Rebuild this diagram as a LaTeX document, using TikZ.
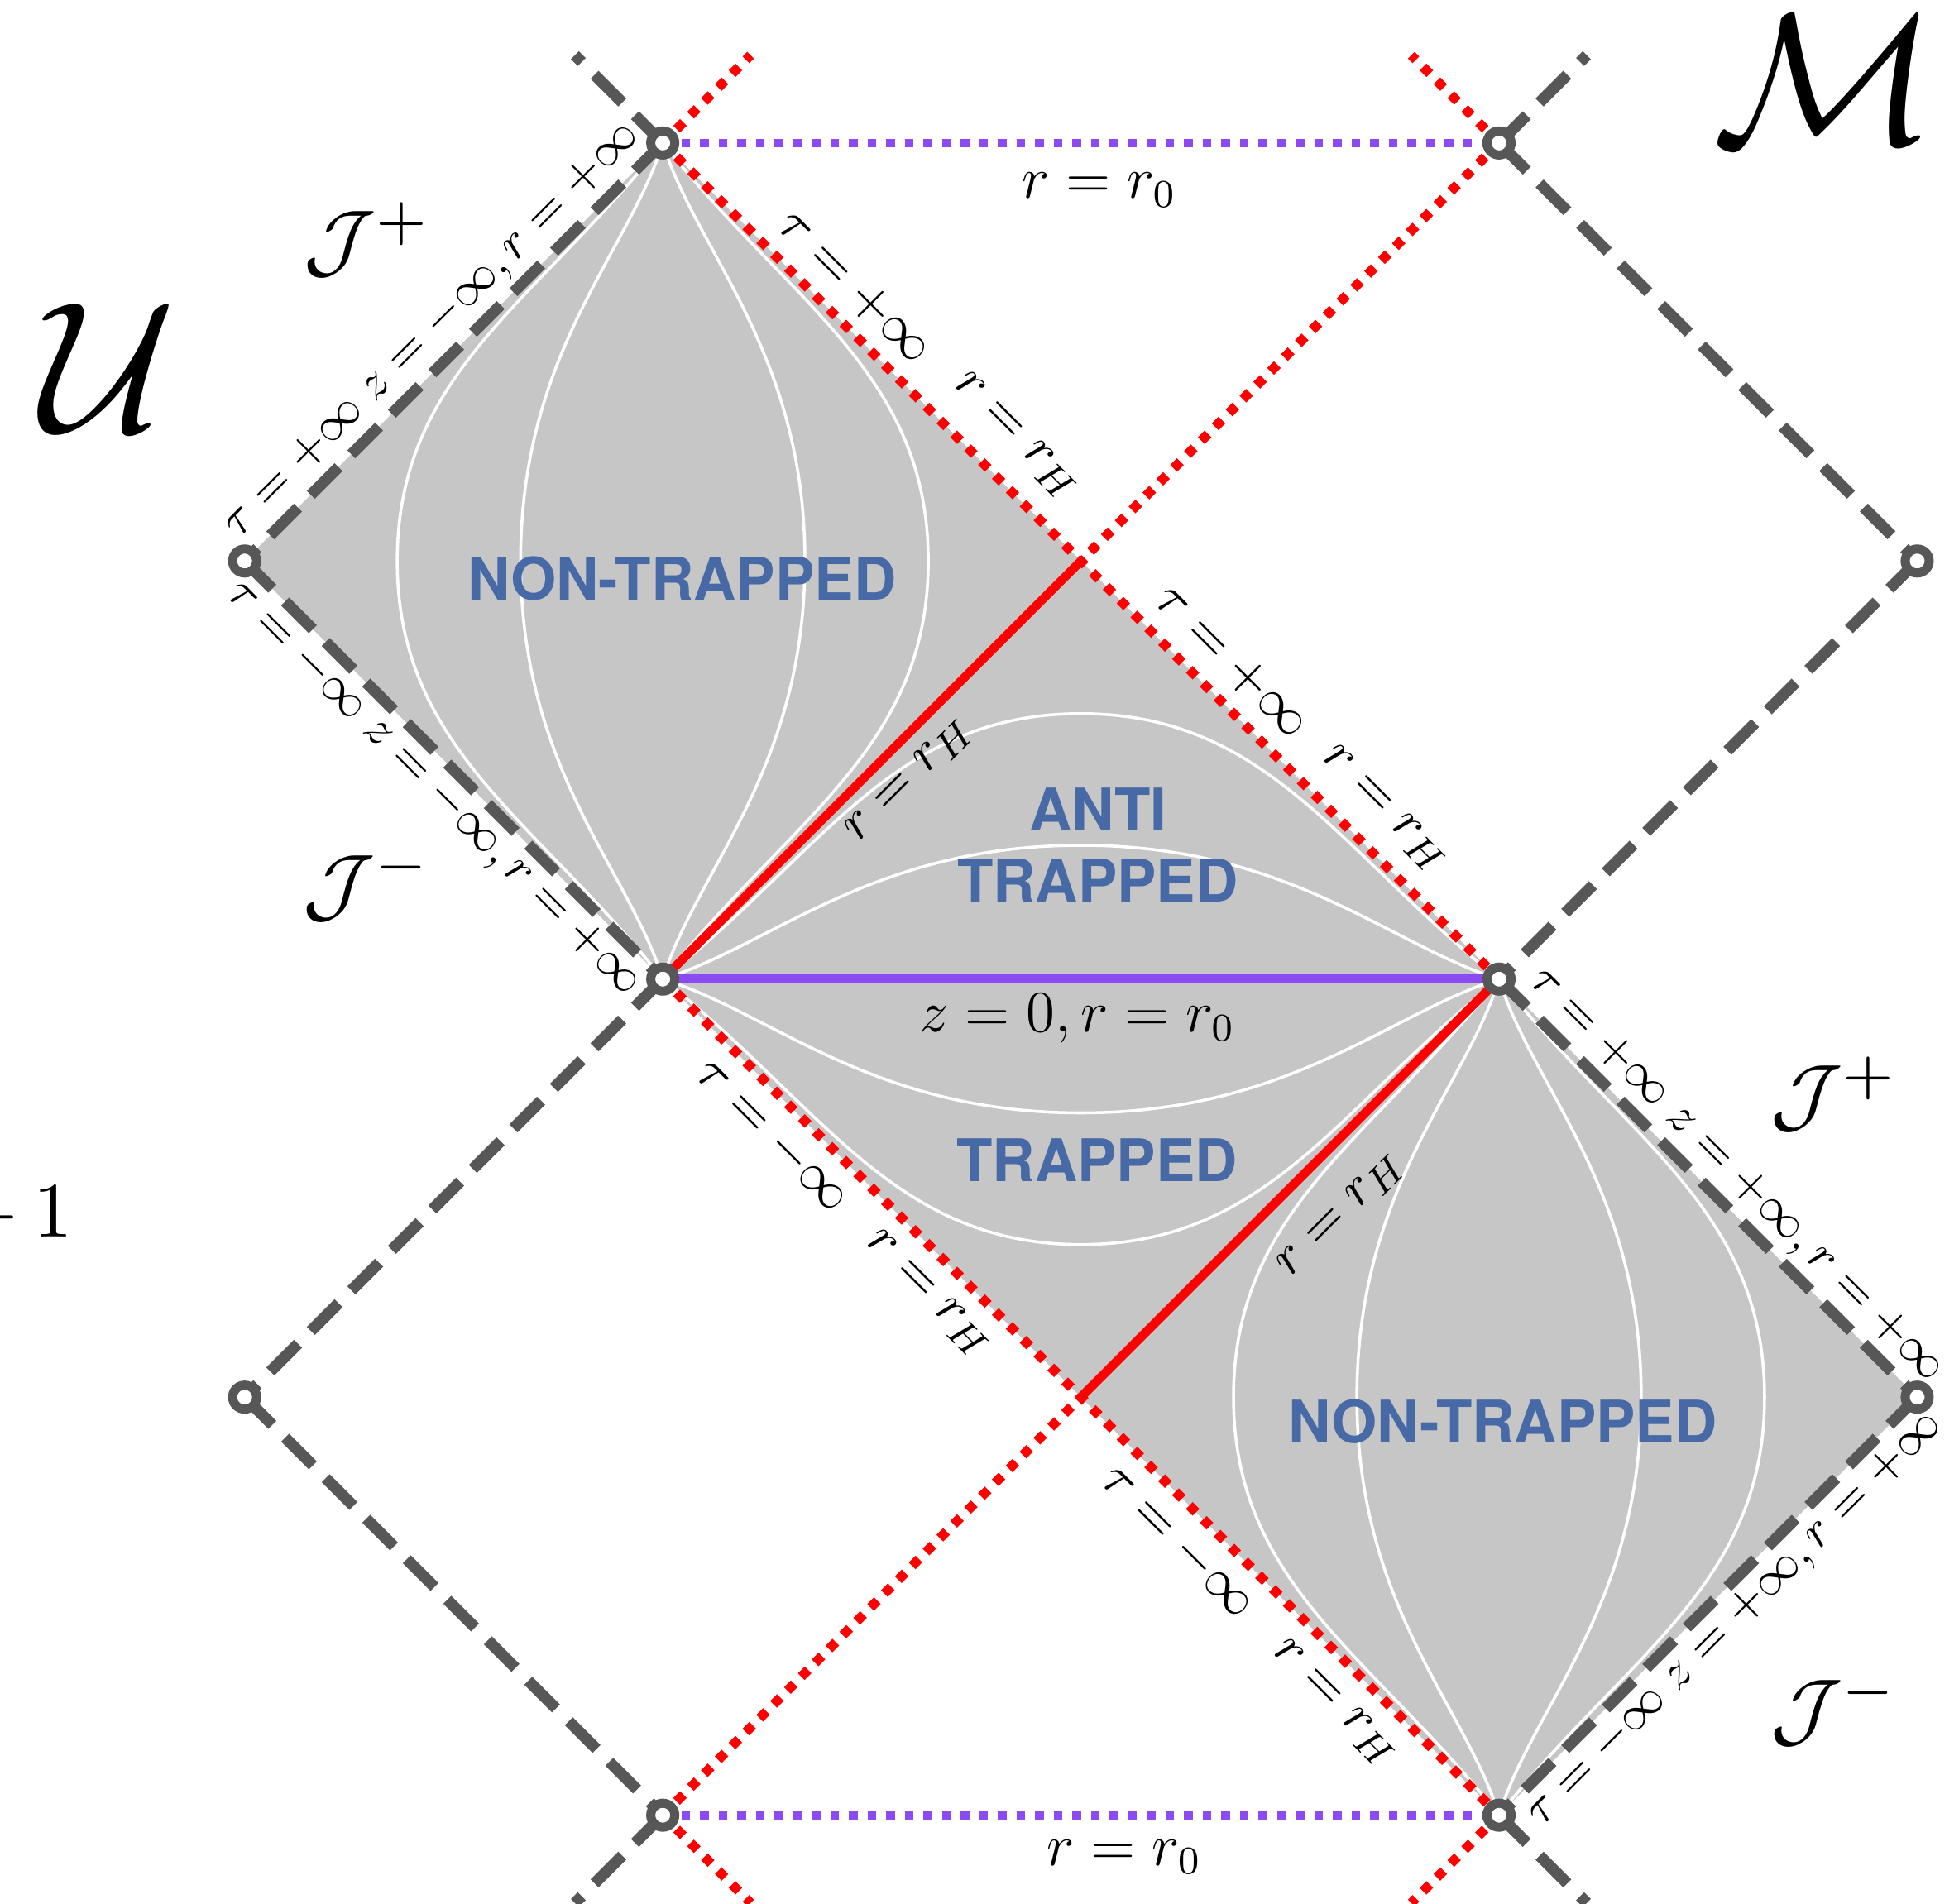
\documentclass[tikz,border=0pt]{standalone}
\usepackage{fontspec}
\newfontfamily\heros{TeX Gyre Heros}
\usetikzlibrary{calc}
\definecolor{dgray}{RGB}{87,87,87}
\definecolor{fillgray}{RGB}{198,198,198}
\definecolor{vio}{RGB}{140,75,242}
\definecolor{lblue}{RGB}{71,106,166}
\newcommand\wslices[1]{%
  \foreach \s in {1,-1} {%
    \draw[slice] (0,2) .. controls ({0.3*\s},1.62) and ({0.635*\s},1.45) .. ({0.635*\s},1)
      .. controls ({0.635*\s},0.55) and ({0.3*\s},0.38) .. (0,0);
    \draw[slice] (0,2) .. controls ({0.08*\s},1.74) and ({#1*\s},1.5) .. ({#1*\s},1)
      .. controls ({#1*\s},0.5) and ({0.08*\s},0.26) .. (0,0);
  }}
\begin{document}
\begin{tikzpicture}[x=3cm,y=3cm,
  bnd/.style={draw=dgray,line width=2.3pt,dash pattern=on 8pt off 3.7pt},
  hor/.style={draw=red,line width=1.95pt,dash pattern=on 1.95pt off 2.05pt},
  horsolid/.style={draw=red,line width=1.8pt},
  rzero/.style={draw=vio,line width=1.8pt,dash pattern=on 1.8pt off 2.0pt},
  rzerosolid/.style={draw=vio,line width=1.9pt},
  slice/.style={draw=white,line width=0.6pt},
  corner/.style={circle,draw=dgray,fill=white,line width=1.86pt,minimum size=4.9pt,inner sep=0pt},
  region/.style={font=\fontsize{12}{14}\selectfont\heros\bfseries,text=lblue,inner sep=0pt},
  elab/.style={font=\fontsize{11}{13}\selectfont,inner sep=0pt},
  llab/.style={font=\fontsize{9.6}{11}\selectfont,inner sep=0pt},
  hlab/.style={font=\fontsize{12}{14}\selectfont,inner sep=0pt},
  scri/.style={font=\fontsize{10}{12}\selectfont,inner sep=0pt,scale=1.7},
  bigl/.style={font=\fontsize{10}{12}\selectfont,inner sep=0pt,scale=3.8},
]
\useasboundingbox (-1.585,-2.212) rectangle (3.100,2.342);
% corner points
\coordinate (A) at (0,2);
\coordinate (B) at (2,2);
\coordinate (L) at (-1,1);
\coordinate (M1) at (1,1);
\coordinate (R) at (3,1);
\coordinate (C1) at (0,0);
\coordinate (C2) at (2,0);
\coordinate (LL) at (-1,-1);
\coordinate (M2) at (1,-1);
\coordinate (R2) at (3,-1);
\coordinate (D) at (0,-2);
\coordinate (E) at (2,-2);
% free ends of the extensions
\coordinate (gA) at (-0.21,2.21);
\coordinate (rA) at (0.21,2.21);
\coordinate (gB) at (2.21,2.21);
\coordinate (rB) at (1.79,2.21);
\coordinate (gD) at (-0.21,-2.21);
\coordinate (rD) at (0.21,-2.21);
\coordinate (gE) at (2.21,-2.21);
\coordinate (rE) at (1.79,-2.21);
% shaded region
\fill[fillgray] (A) -- (C2) -- (R2) -- (E) -- (C1) -- (L) -- cycle;
% white slices
\begin{scope}\wslices{0.34}\end{scope}
\begin{scope}[shift={(1,0)},rotate=-90,shift={(0,-1)}]\wslices{0.32}\end{scope}
\begin{scope}[shift={(2,-2)}]\wslices{0.34}\end{scope}
% r = r0 lines
\draw[rzero] (A) -- (B);
\draw[rzero] (D) -- (E);
\draw[rzerosolid] (C1) -- (C2);
% horizons
\draw[hor] (A) -- (C2);
\draw[hor] (B) -- (M1);
\draw[horsolid] (C1) -- (M1);
\draw[hor] (C1) -- (E);
\draw[hor] (D) -- (M2);
\draw[horsolid] (M2) -- (C2);
\draw[hor] (A) -- (rA);
\draw[hor] (B) -- (rB);
\draw[hor] (D) -- (rD);
\draw[hor] (E) -- (rE);
% conformal boundaries
\draw[bnd] (A) -- (L);
\draw[bnd] (L) -- (C1);
\draw[bnd] (C1) -- (LL);
\draw[bnd] (LL) -- (D);
\draw[bnd] (A) -- (gA);
\draw[bnd] (D) -- (gD);
\draw[bnd] (B) -- (R);
\draw[bnd] (R) -- (C2);
\draw[bnd] (C2) -- (R2);
\draw[bnd] (R2) -- (E);
\draw[bnd] (B) -- (gB);
\draw[bnd] (E) -- (gE);
% corner markers
\foreach \p in {A,B,L,R,C1,C2,LL,R2,D,E} \node[corner] (c\p) at (\p) {};
% edge labels
\node[llab,rotate=45] (l1) at (-0.55,1.55) {$\tau=+\infty\; z=-\infty, r=+\infty$};
\node[llab,rotate=-45] (l2) at (-0.55,0.454) {$\tau=-\infty\; z=-\infty, r=+\infty$};
\node[elab,rotate=-45] (l3) at (0.458,1.655) {$\tau=+\infty$};
\node[elab,rotate=-45] (l4) at (0.843,1.298) {$r=r_H$};
\node[elab,rotate=-45] (l5) at (1.36,0.76) {$\tau=+\infty$};
\node[elab,rotate=-45] (l6) at (1.725,0.405) {$r=r_H$};
\node[elab,rotate=45] (l7) at (0.592,0.475) {$r=r_H$};
\node[elab,rotate=45] (l8) at (1.624,-0.566) {$r=r_H$};
\node[elab,rotate=-45] (l9) at (0.262,-0.375) {$\tau=-\infty$};
\node[elab,rotate=-45] (l10) at (0.632,-0.755) {$r=r_H$};
\node[elab,rotate=-45] (l11) at (1.232,-1.346) {$\tau=-\infty$};
\node[elab,rotate=-45] (l12) at (1.605,-1.733) {$r=r_H$};
\node[llab,rotate=-45] (l13) at (2.566,-0.471) {$\tau=+\infty\; z=+\infty, r=+\infty$};
\node[llab,rotate=45] (l14) at (2.566,-1.534) {$\tau=-\infty\; z=+\infty, r=+\infty$};
% horizontal labels
\node[hlab] (h1) at (1.044,1.888) {$r=r_0$};
\node[hlab] (h2) at (1.104,-2.100) {$r=r_0$};
\node[hlab] (h3) at (0.991,-0.095) {$z=0, r=r_0$};
% region names
\node[region] (n1) at (0.046,0.957) {NON-TRAPPED};
\node[region] (n2) at (1.041,0.405) {ANTI};
\node[region] (n3) at (1.040,0.235) {TRAPPED};
\node[region] (n4) at (1.039,-0.433) {TRAPPED};
\node[region] (n5) at (2.009,-1.058) {NON-TRAPPED};
% scri labels
\node[scri] (j1) at (-0.705,1.769) {$\mathcal{J}^+$};
\node[scri] (j2) at (-0.707,0.229) {$\mathcal{J}^-$};
\node[scri] (j3) at (2.802,-0.275) {$\mathcal{J}^+$};
\node[scri] (j4) at (2.802,-1.745) {$\mathcal{J}^-$};
% patches
\node[bigl] (U) at (-1.325,1.462) {$\mathcal{U}$};
\node[bigl] (M) at (2.778,2.150) {$\mathcal{M}$};
\node[font=\fontsize{10}{12}\selectfont,scale=1.6,inner sep=0pt,anchor=base east] (m1) at (-1.408,-0.617) {$-\,1$};
\end{tikzpicture}
\end{document}
